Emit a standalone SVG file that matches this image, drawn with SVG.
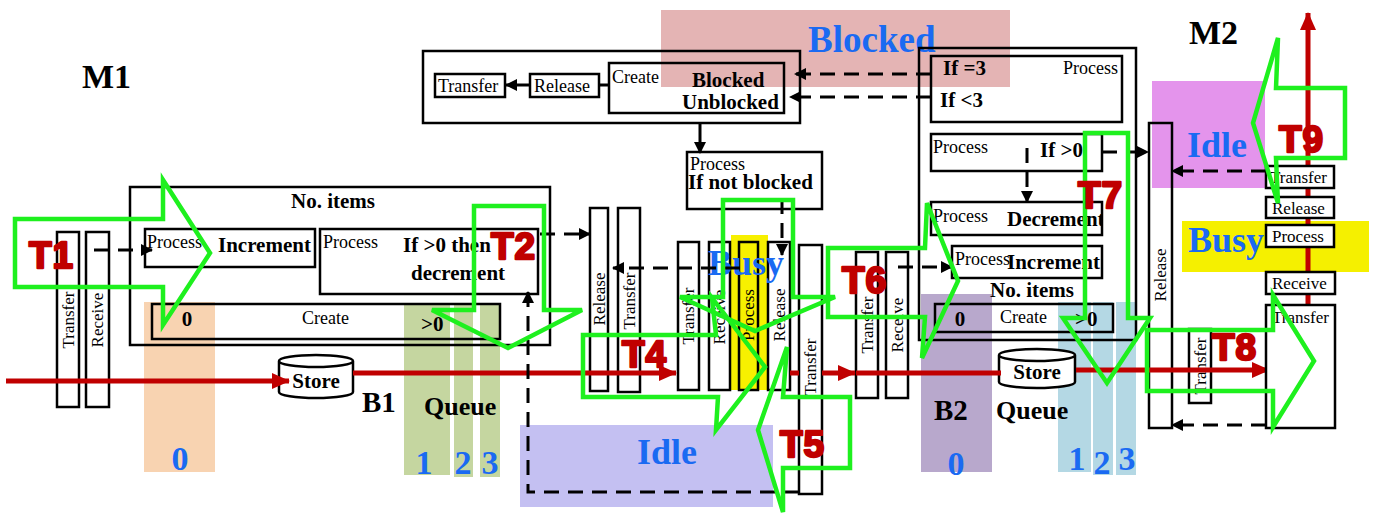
<svg xmlns="http://www.w3.org/2000/svg" width="1377" height="514" viewBox="0 0 1377 514">
<style>
.box{fill:none;stroke:#000;stroke-width:2.5}
.wbox{fill:#fff;stroke:#000;stroke-width:2.5}
.t{font-family:"Liberation Serif",serif;font-size:18px;fill:#000}
.v{font-family:"Liberation Serif",serif;font-size:17px;fill:#000}
.b{font-family:"Liberation Serif",serif;font-size:21px;font-weight:bold;fill:#000}
.big{font-family:"Liberation Serif",serif;font-weight:bold;fill:#000}
.blue{font-family:"Liberation Serif",serif;font-weight:bold;fill:#1a6af2;font-size:36px}
.num{font-family:"Liberation Serif",serif;font-weight:bold;fill:#1a6af2;font-size:34px;text-anchor:middle}
.tl{font-family:"Liberation Sans",Arial,sans-serif;font-weight:bold;font-size:37px;fill:#c00000;stroke:#c00000;stroke-width:2.4;stroke-linejoin:round;letter-spacing:1px}
.g{fill:none;stroke:#1ef01e;stroke-width:4.5}
.red{stroke:#c00000;stroke-width:5;fill:none}
.dash{stroke:#000;stroke-width:3;stroke-dasharray:15 9;fill:none}
.sol{stroke:#000;stroke-width:3;fill:none}
</style>
<defs>
<marker id="ah" viewBox="0 0 12 12" refX="11" refY="6" markerWidth="12" markerHeight="12" markerUnits="userSpaceOnUse" orient="auto"><path d="M0,0 L12,6 L0,12 z" fill="#000"/></marker>
<marker id="rh" viewBox="0 0 18 16" refX="17" refY="8" markerWidth="18" markerHeight="16" markerUnits="userSpaceOnUse" orient="auto"><path d="M0,0 L18,8 L0,16 z" fill="#c00000"/></marker>
<clipPath id="decclip"><rect x="931" y="202" width="171" height="33"/></clipPath>
</defs>
<rect width="1377" height="514" fill="#fff"/>

<g id="backgrounds">
<rect x="144" y="302" width="71" height="170" fill="#f8d3b1"/>
<rect x="404" y="305" width="46" height="170" fill="#c5d6a0"/>
<rect x="454" y="305" width="19" height="172" fill="#c5d6a0"/>
<rect x="480" y="305" width="20" height="172" fill="#c5d6a0"/>
<rect x="520" y="425" width="253" height="82" fill="#c4c0f2"/>
<rect x="731" y="235" width="37" height="155" fill="#f7f000"/>
<rect x="661" y="10" width="349" height="77" fill="#e4b4b4"/>
<rect x="921" y="294" width="71" height="178" fill="#b8a8cc"/>
<rect x="1058" y="302" width="33" height="170" fill="#b4d8e4"/>
<rect x="1093" y="302" width="20" height="173" fill="#b4d8e4"/>
<rect x="1116" y="302" width="20" height="173" fill="#b4d8e4"/>
<rect x="1152" y="81" width="113" height="107" fill="#e494ec"/>
<rect x="1182" y="221" width="187" height="51" fill="#f5f000"/>
</g>

<g id="state-labels" style="font-family:'Liberation Serif',serif">
<text class="blue" x="808" y="52" style="font-family:'Liberation Serif',serif;font-size:37px">Blocked</text>
<text class="blue" x="637" y="464" style="font-family:'Liberation Serif',serif">Idle</text>
<text class="blue" x="1187" y="157" style="font-family:'Liberation Serif',serif">Idle</text>
<text class="blue" x="1188" y="252" style="font-family:'Liberation Serif',serif">Busy</text>
<text class="num" x="180" y="470" style="font-family:'Liberation Serif',serif">0</text>
<text class="num" x="424" y="474" style="font-family:'Liberation Serif',serif">1</text>
<text class="num" x="463" y="474" style="font-family:'Liberation Serif',serif">2</text>
<text class="num" x="490" y="474" style="font-family:'Liberation Serif',serif">3</text>
<text class="num" x="956" y="475" style="font-family:'Liberation Serif',serif">0</text>
<text class="num" x="1077" y="470" style="font-family:'Liberation Serif',serif">1</text>
<text class="num" x="1102" y="474" style="font-family:'Liberation Serif',serif">2</text>
<text class="num" x="1127" y="470" style="font-family:'Liberation Serif',serif">3</text>
<text class="big" x="82" y="88" font-size="34">M1</text>
<text class="big" x="1189" y="44" font-size="34">M2</text>
<text class="big" x="362" y="412" font-size="29">B1</text>
<text class="big" x="424" y="415" font-size="26">Queue</text>
<text class="big" x="934" y="420" font-size="29">B2</text>
<text class="big" x="996" y="419" font-size="26">Queue</text>
</g>

<g id="m1-transfer"><rect class="box" x="57" y="232" width="22" height="175"/><text class="v" transform="translate(74,320) rotate(-90)" text-anchor="middle">Transfer</text></g>
<g id="m1-receive"><rect class="box" x="86" y="232" width="23" height="175"/><text class="v" transform="translate(103,320) rotate(-90)" text-anchor="middle">Receive</text></g>

<g id="m1-buffer">
<rect class="box" x="130" y="187" width="420" height="158"/>
<text class="b" x="291" y="208">No. items</text>
<g id="m1-increment"><rect class="box" x="145" y="229" width="170" height="38"/><text class="t" x="147" y="248">Process</text><text class="b" x="218" y="252">Increment</text></g>
<g id="m1-decrement"><rect class="box" x="320" y="229" width="218" height="65"/><text class="t" x="323" y="248">Process</text><text class="b" x="403" y="252">If &gt;0 then</text><text class="b" x="411" y="280">decrement</text></g>
<g id="m1-create"><rect class="box" x="152" y="304" width="348" height="35"/><text class="b" x="187" y="326" text-anchor="middle">0</text><text class="t" x="302" y="324">Create</text><text class="b" x="421" y="331">&gt;0</text></g>
</g>

<g id="store-b1"><path d="M279,361 L279,392 A37,6 0 0 0 353,392 L353,361 A37,6 0 0 0 279,361 A37,6 0 0 0 353,361" fill="#fff" stroke="#000" stroke-width="2.5"/><text class="b" x="316" y="388" text-anchor="middle">Store</text></g>

<g id="block-control">
<rect class="box" x="423" y="51" width="377" height="72"/>
<g id="bc-transfer"><rect class="box" x="435" y="74" width="70" height="23"/><text class="t" x="438" y="92">Transfer</text></g>
<g id="bc-release"><rect class="box" x="530" y="74" width="69" height="23"/><text class="t" x="534" y="92">Release</text></g>
<g id="bc-create"><rect class="box" x="609" y="63" width="175" height="50"/><text class="t" x="612" y="83">Create</text><text class="b" x="692" y="87">Blocked</text><text class="b" x="682" y="109">Unblocked</text></g>
</g>

<g id="if-not-blocked"><rect class="box" x="687" y="152" width="135" height="57"/><text class="t" x="690" y="170">Process</text><text class="b" x="688" y="189">If not blocked</text></g>

<g id="mid-release1"><rect class="box" x="590" y="208" width="18" height="183"/><text class="v" transform="translate(605,299) rotate(-90)" text-anchor="middle">Release</text></g>
<g id="mid-transfer1"><rect class="box" x="618" y="208" width="22" height="184"/><text class="v" transform="translate(635,301) rotate(-90)" text-anchor="middle">Transfer</text></g>
<g id="mid-transfer2"><rect class="box" x="678" y="242" width="21" height="148"/><text class="v" transform="translate(694,316) rotate(-90)" text-anchor="middle">Transfer</text></g>
<g id="mid-receive"><rect class="box" x="709" y="242" width="21" height="148"/><text class="v" transform="translate(725,317) rotate(-90)" text-anchor="middle">Receive</text></g>
<g id="mid-process"><rect class="box" x="739" y="242" width="19" height="148"/><text class="v" transform="translate(754,315) rotate(-90)" text-anchor="middle">Process</text></g>
<g id="mid-release2"><rect class="box" x="768" y="242" width="22" height="148"/><text class="v" transform="translate(785,315) rotate(-90)" text-anchor="middle">Release</text></g>
<g id="mid-transfer3"><rect class="wbox" x="799" y="245" width="23" height="249"/><text class="v" transform="translate(816,367) rotate(-90)" text-anchor="middle">Transfer</text></g>
<text class="blue" x="708" y="275" style="font-family:'Liberation Serif',serif">Busy</text>

<g id="m2-transfer-in"><rect class="box" x="856" y="252" width="22" height="146"/><text class="v" transform="translate(873,325) rotate(-90)" text-anchor="middle">Transfer</text></g>
<g id="m2-receive-in"><rect class="box" x="886" y="252" width="22" height="146"/><text class="v" transform="translate(903,325) rotate(-90)" text-anchor="middle">Receive</text></g>

<g id="m2-buffer">
<rect class="box" x="919" y="48" width="217" height="292"/>
<g id="m2-if3"><rect class="box" x="931" y="56" width="191" height="66"/><text class="b" x="943" y="75">If =3</text><text class="b" x="940" y="107">If &lt;3</text><text class="t" x="1063" y="74">Process</text></g>
<g id="m2-if0"><rect class="box" x="931" y="134" width="171" height="37"/><text class="t" x="933" y="153">Process</text><text class="b" x="1040" y="157">If &gt;0</text></g>
<g id="m2-decrement"><rect class="box" x="931" y="202" width="171" height="33"/><text class="t" x="933" y="222">Process</text><text class="b" x="1007" y="226" clip-path="url(#decclip)">Decrement</text></g>
<g id="m2-increment"><rect class="box" x="952" y="246" width="150" height="32"/><text class="t" x="955" y="265">Process</text><text class="b" x="1007" y="269">Increment</text></g>
<text class="b" x="990" y="297">No. items</text>
<g id="m2-create"><rect class="box" x="935" y="304" width="178" height="28"/><text class="b" x="960" y="326" text-anchor="middle">0</text><text class="t" x="1000" y="323">Create</text><text class="b" x="1075" y="326">&gt;0</text></g>
</g>

<g id="store-b2"><path d="M999,355 L999,382 A38,6 0 0 0 1075,382 L1075,355 A38,6 0 0 0 999,355 A38,6 0 0 0 1075,355" fill="#fff" stroke="#000" stroke-width="2.5"/><text class="b" x="1037" y="379" text-anchor="middle">Store</text></g>

<g id="m2-release"><rect class="box" x="1149" y="123" width="23" height="305"/><text class="v" transform="translate(1166,275) rotate(-90)" text-anchor="middle">Release</text></g>
<g id="m2-transfer-small"><rect class="box" x="1189" y="329" width="22" height="74"/><text class="v" transform="translate(1206,366) rotate(-90)" text-anchor="middle">Transfer</text></g>

<g id="connectors">
<path class="red" d="M6,381 H289" marker-end="url(#rh)"/>
<path class="red" d="M353,373 H676" marker-end="url(#rh)"/>
<path class="red" d="M790,373 H799 M822,373 H855" marker-end="url(#rh)"/>
<path class="red" d="M856,373 H1001"/>
<path class="red" d="M1076,370 H1269" marker-end="url(#rh)"/>
<path class="red" d="M1308,305 V13" marker-end="url(#rh)"/>
<path class="dash" d="M94,250 H152" marker-end="url(#ah)"/>
<path class="dash" d="M540,234 H590" marker-end="url(#ah)"/>
<path class="dash" d="M740,268 H613" marker-end="url(#ah)"/>
<path class="dash" d="M799,492 H528 V292" marker-end="url(#ah)"/>
<path class="dash" d="M782,199 V255" marker-end="url(#ah)"/>
<path class="sol" d="M700,123 V153" marker-end="url(#ah)"/>
<path class="sol" d="M609,85 H599"/>
<path class="sol" d="M530,85 H506" marker-end="url(#ah)"/>
<path class="dash" d="M931,74 H795" marker-end="url(#ah)"/>
<path class="dash" d="M931,97 H790" marker-end="url(#ah)"/>
<path class="dash" d="M1027,148 V202" marker-end="url(#ah)"/>
<path class="dash" d="M1102,152 H1148" marker-end="url(#ah)"/>
<path class="dash" d="M898,267 H952" marker-end="url(#ah)"/>
<path class="dash" d="M1266,171 H1172" marker-end="url(#ah)"/>
<path class="dash" d="M1266,425 H1172" marker-end="url(#ah)"/>
</g>

<g id="m2-out-transfer"><rect class="wbox" x="1266" y="166" width="68" height="22"/><text class="v" x="1270" y="183">Transfer</text></g>
<g id="m2-out-release"><rect class="wbox" x="1266" y="197" width="68" height="21"/><text class="v" x="1272" y="214">Release</text></g>
<g id="m2-out-process"><rect class="wbox" x="1266" y="225" width="68" height="22"/><text class="v" x="1272" y="242">Process</text></g>
<g id="m2-out-receive"><rect class="wbox" x="1266" y="272" width="69" height="22"/><text class="v" x="1272" y="289">Receive</text></g>
<g id="m2-out-transfer2"><rect class="wbox" x="1266" y="305" width="69" height="123"/><text class="v" x="1272" y="323">Transfer</text></g>

<g id="transitions">
<polygon class="g" points="15,219 163,219 163,180 210,253 163,325 163,287 15,287"/>
<polygon class="g" points="474,206 544,206 544,310 582,310 508,348 432,310 474,310"/>
<polygon class="g" points="723,200 793,200 793,297 835,297 755,331 680,297 723,297"/>
<polygon class="g" points="583,335 716,335 712,298 765,367 716,430 718,397 583,397"/>
<polygon class="g" points="758,430 787,347 783,397 850,397 850,468 783,468 783,512"/>
<polygon class="g" points="828,248 925,248 927,203 958,281 922,358 925,317 828,317"/>
<polygon class="g" points="1085,133 1128,133 1128,318 1150,318 1107,383 1063,318 1085,318"/>
<polygon class="g" points="1147,330 1273,330 1273,295 1314,361 1273,427 1273,391 1147,391"/>
<polygon class="g" points="1345,88 1276,88 1278,38 1253,123 1278,203 1276,158 1345,158"/>
<text class="tl" x="29" y="268">T1</text>
<text class="tl" x="491" y="259">T2</text>
<text class="tl" x="622" y="367">T4</text>
<text class="tl" x="780" y="457">T5</text>
<text class="tl" x="842" y="293">T6</text>
<text class="tl" x="1078" y="208">T7</text>
<text class="tl" x="1212" y="360">T8</text>
<text class="tl" x="1279" y="152">T9</text>
</g>
</svg>
